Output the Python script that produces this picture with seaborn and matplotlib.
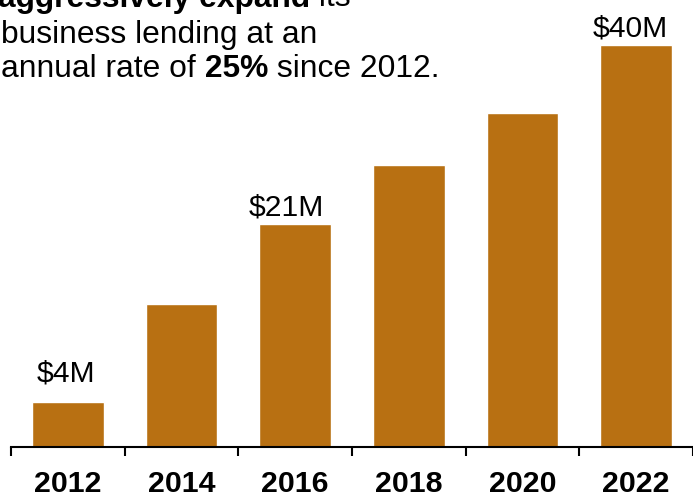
import matplotlib
matplotlib.use('Agg')
import matplotlib.pyplot as plt
import seaborn as sns
import pandas as pd

# dados (em milhoes de dolares)
anos = ['2012', '2014', '2016', '2018', '2020', '2022']
emprestimos = [4.45, 14.2, 22.2, 28.1, 33.3, 40.0]
rotulos = ['$4M', '', '$21M', '', '', '$40M']

# texto do titulo, por linha: (trecho, peso)
linhas_titulo = [
    [('aggressively expand', 'bold'), (' its', 'normal')],
    [('business lending at an', 'normal')],
    [('annual rate of', 'normal'), (' 25%', 'bold'), (' since 2012.', 'normal')],
]

sns.set_theme(style='white')
plt.rcParams['font.family'] = ['Liberation Sans', 'DejaVu Sans']

W, H = 693, 498
fig = plt.figure(figsize=(W / 100, H / 100), dpi=100)
ax = fig.add_axes([11 / W, (H - 446.7) / H, 682 / W, 446.7 / H])

df = pd.DataFrame({'ano': anos, 'valor': emprestimos})
sns.barplot(data=df, x='ano', y='valor', color='#B87012', saturation=1,
            width=0.633, ax=ax)

ax.set_xlim(-0.5, len(anos) - 0.5)
ax.set_ylim(0, 446.7 / (401.4 / 40))
ax.set(xlabel=None, ylabel=None)
ax.set_yticks([])

# eixo x: linha de base + tracinhos entre as categorias
for lado in ['top', 'left', 'right']:
    ax.spines[lado].set_visible(False)
ax.spines['bottom'].set_color('black')
ax.spines['bottom'].set_linewidth(1.5)
ax.set_xticks(range(len(anos)))
ax.set_xticklabels(anos, fontsize=21.8, fontweight='bold', color='black')
ax.tick_params(axis='x', which='major', length=0, pad=17)
ax.set_xticks([i - 0.5 for i in range(len(anos) + 1)], minor=True)
ax.tick_params(axis='x', which='minor', length=6.8, width=1.5,
               color='black', direction='out', bottom=True)

# rotulos de valor acima das barras
desloc = {0: (-2, 21), 2: (-9, 8), 5: (-6, 9)}
for i, (v, r) in enumerate(zip(emprestimos, rotulos)):
    if r:
        dx, dy = desloc.get(i, (0, 8))
        ax.annotate(r, xy=(i, v), xytext=(dx, dy), textcoords='offset pixels',
                    ha='center', va='baseline', fontsize=21.7, color='black')

# titulo em varias partes (negrito misturado)
fig.canvas.draw()
renderer = fig.canvas.get_renderer()
bases = [6.5, 42.7, 77.3]
inicio = [-2, 1, 1]
for linha, base, x in zip(linhas_titulo, bases, inicio):
    for trecho, peso in linha:
        t = fig.text(x / W, 1 - base / H, trecho, fontsize=22.9, fontweight=peso,
                     ha='left', va='baseline', color='black')
        x = t.get_window_extent(renderer).x1

fig.savefig('out.png', dpi=100)
